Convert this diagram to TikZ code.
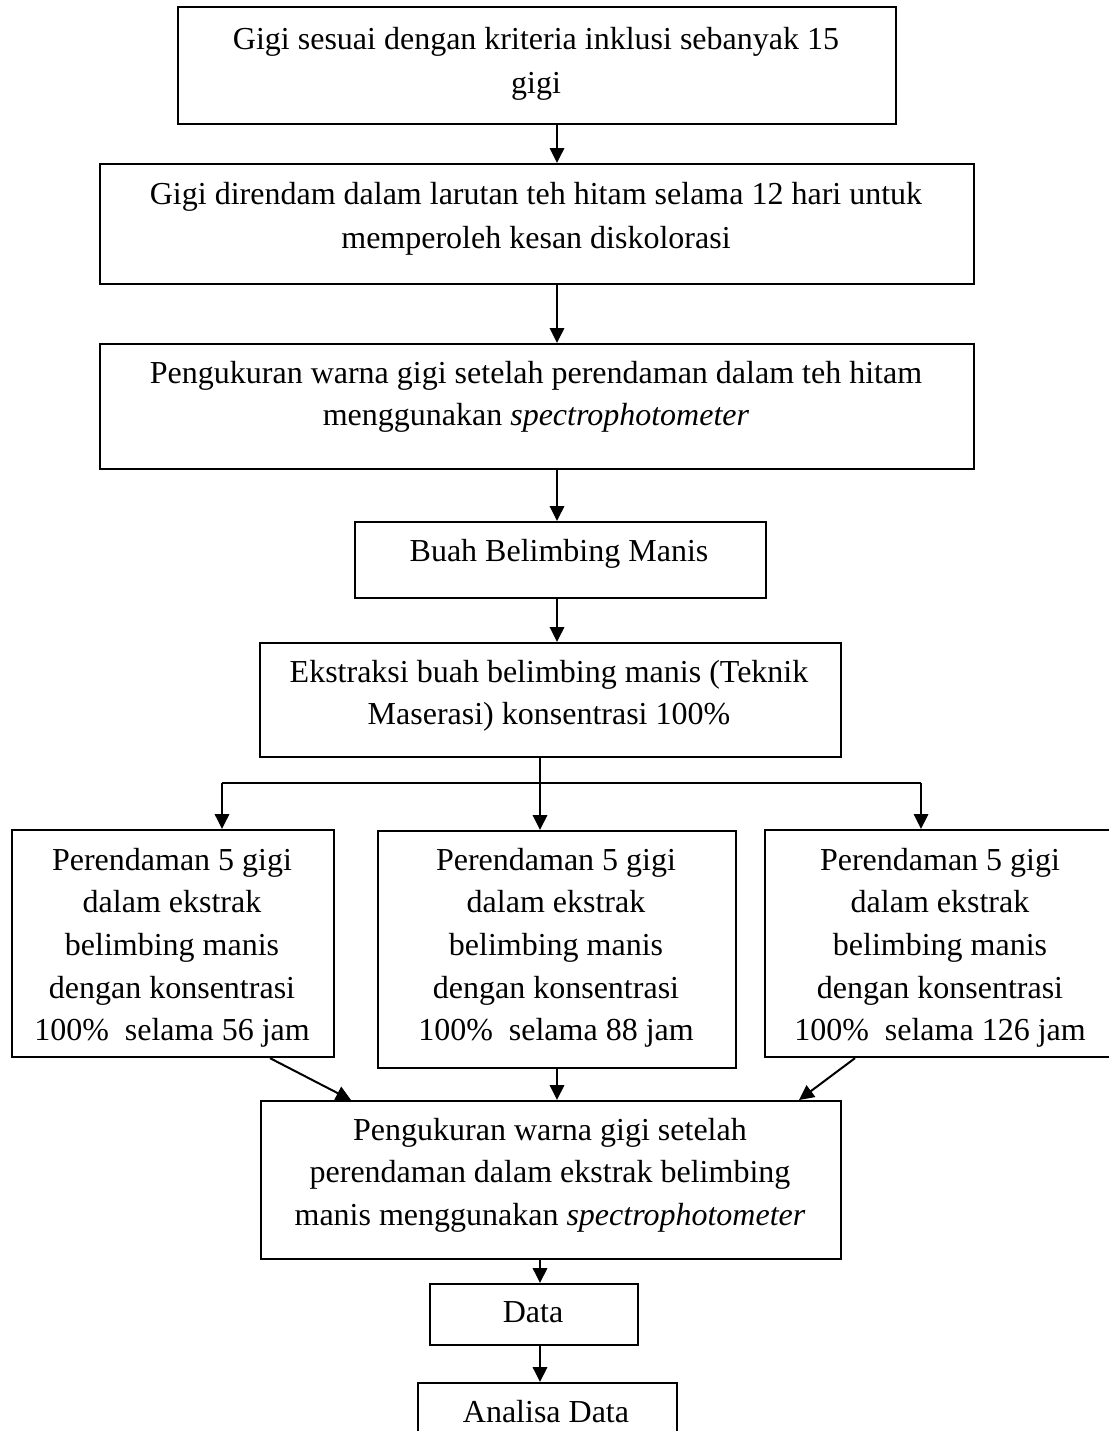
\documentclass[tikz,border=0pt]{standalone}
\usepackage{fontspec}
\setmainfont{Liberation Serif}
\usetikzlibrary{arrows.meta}
\begin{document}
\begin{tikzpicture}[x=0.375pt,y=-0.375pt,
  box/.style={draw=black, line width=0.8pt, inner sep=0pt, anchor=north west},
  txt/.style={anchor=base, inner sep=0pt, font=\fontsize{12}{16}\selectfont},
  wtxt/.style={anchor=base, inner sep=0pt, font=\fontsize{12}{16.6}\selectfont},
  arr/.style={line width=0.75pt, -{Triangle[length=5.6pt,width=5.4pt]}},
  ln/.style={line width=0.75pt}]
\useasboundingbox (0,0) rectangle (1109,1431);
\clip (0,0) rectangle (1109,1431);

% boxes
\node[box, minimum width=718*0.375pt, minimum height=117*0.375pt] (b1) at (177,6) {};
\node[box, minimum width=874*0.375pt, minimum height=120*0.375pt] (b2) at (99,163) {};
\node[box, minimum width=874*0.375pt, minimum height=125*0.375pt] (b3) at (99,343) {};
\node[box, minimum width=411*0.375pt, minimum height=76*0.375pt] (b4) at (354,521) {};
\node[box, minimum width=581*0.375pt, minimum height=114*0.375pt] (b5) at (259,642) {};
\node[box, minimum width=322*0.375pt, minimum height=227*0.375pt] (pL) at (11,829) {};
\node[box, minimum width=358*0.375pt, minimum height=237*0.375pt] (pM) at (377,830) {};
\node[box, minimum width=352*0.375pt, minimum height=227*0.375pt] (pR) at (764,829) {};
\node[box, minimum width=580*0.375pt, minimum height=158*0.375pt] (b8) at (260,1100) {};
\node[box, minimum width=208*0.375pt, minimum height=61*0.375pt] (b9) at (429,1283) {};
\node[box, minimum width=259*0.375pt, minimum height=80*0.375pt] (b10) at (417,1382) {};

% texts
\node[wtxt] (t1) at (536,49) {\begin{tabular}[t]{@{}c@{}}Gigi sesuai dengan kriteria inklusi sebanyak 15\\ gigi\end{tabular}};
\node[wtxt] (t2) at (536,204) {\begin{tabular}[t]{@{}c@{}}Gigi direndam dalam larutan teh hitam selama 12 hari untuk\\ memperoleh kesan diskolorasi\end{tabular}};
\node[txt] (t3) at (536,383) {\begin{tabular}[t]{@{}c@{}}Pengukuran warna gigi setelah perendaman dalam teh hitam\\ menggunakan \textit{spectrophotometer}\end{tabular}};
\node[txt] (t4) at (559,561) {Buah Belimbing Manis};
\node[txt] (t5) at (549,682) {\begin{tabular}[t]{@{}c@{}}Ekstraksi buah belimbing manis (Teknik\\ Maserasi) konsentrasi 100\%\end{tabular}};
\node[txt] (tL) at (172,870) {\begin{tabular}[t]{@{}c@{}}Perendaman 5 gigi\\ dalam ekstrak\\ belimbing manis\\ dengan konsentrasi\\ 100\%\ \ selama 56 jam\end{tabular}};
\node[txt] (tM) at (556,870) {\begin{tabular}[t]{@{}c@{}}Perendaman 5 gigi\\ dalam ekstrak\\ belimbing manis\\ dengan konsentrasi\\ 100\%\ \ selama 88 jam\end{tabular}};
\node[txt] (tR) at (940,870) {\begin{tabular}[t]{@{}c@{}}Perendaman 5 gigi\\ dalam ekstrak\\ belimbing manis\\ dengan konsentrasi\\ 100\%\ \ selama 126 jam\end{tabular}};
\node[txt] (t8) at (550,1140) {\begin{tabular}[t]{@{}c@{}}Pengukuran warna gigi setelah\\ perendaman dalam ekstrak belimbing\\ manis menggunakan \textit{spectrophotometer}\end{tabular}};
\node[txt] (t9) at (533,1322) {Data};
\node[txt] (t10) at (546,1422) {Analisa Data};

% connector coordinates
\coordinate (xa) at (557,0);
\coordinate (xb) at (540,0);
\coordinate (sL) at (222,783);
\coordinate (sM) at (540,783);
\coordinate (sR) at (921,783);
\coordinate (dL1) at (270,0);
\coordinate (dL2) at (351,0);
\coordinate (dR1) at (855,0);
\coordinate (dR2) at (799,0);

\draw[arr] (b1.south -| xa) -- (b2.north -| xa);
\draw[arr] (b2.south -| xa) -- (b3.north -| xa);
\draw[arr] (b3.south -| xa) -- (b4.north -| xa);
\draw[arr] (b4.south -| xa) -- (b5.north -| xa);
\draw[ln] (b5.south -| sM) -- (sM);
\draw[ln] (sL) -- (sR);
\draw[arr] (sL) -- (pL.north -| sL);
\draw[arr] (sM) -- (pM.north -| sM);
\draw[arr] (sR) -- (pR.north -| sR);
\draw[arr] (pL.south -| dL1) -- (b8.north -| dL2);
\draw[arr] (pM.south -| xa) -- (b8.north -| xa);
\draw[arr] (pR.south -| dR1) -- (b8.north -| dR2);
\draw[arr] (b8.south -| xb) -- (b9.north -| xb);
\draw[arr] (b9.south -| xb) -- (b10.north -| xb);
\end{tikzpicture}
\end{document}
